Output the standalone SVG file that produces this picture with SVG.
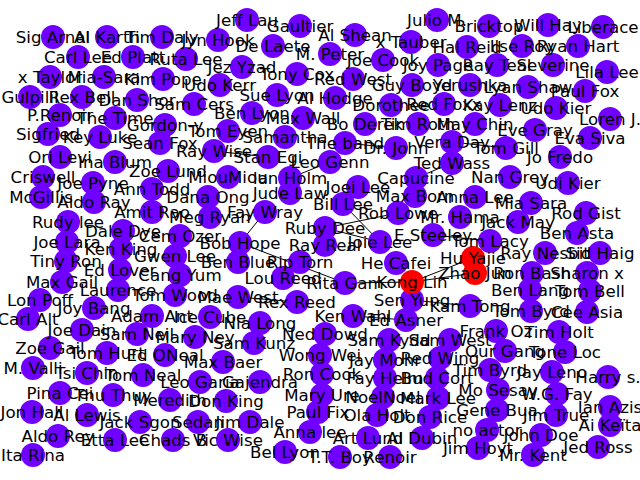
<svg xmlns="http://www.w3.org/2000/svg" width="640" height="480" viewBox="0 0 640 480">
<style>
.n circle{fill:#7000ff}
.n.r circle{fill:#ff0000}
#edges line{stroke:#000;stroke-width:1}
#labels text{font-family:"DejaVu Sans",sans-serif;font-size:16.67px;fill:#000;text-anchor:middle;dominant-baseline:central}
</style>
<rect width="640" height="480" fill="#fff"/>
<g id="edges">
<line x1="265" y1="212" x2="240" y2="243"/>
<line x1="240" y1="243" x2="345" y2="283"/>
<line x1="345" y1="283" x2="412" y2="282"/>
<line x1="412" y1="282" x2="473" y2="258"/>
<line x1="412" y1="282" x2="475" y2="273"/>
<line x1="473" y1="258" x2="475" y2="273"/>
<line x1="238" y1="297" x2="297" y2="302"/>
<line x1="353" y1="316" x2="406" y2="320"/>
<line x1="412" y1="300" x2="470" y2="306"/>
<line x1="214" y1="151" x2="268" y2="157"/>
<line x1="345" y1="143" x2="396" y2="148"/>
<line x1="452" y1="142" x2="506" y2="148"/>
<line x1="452" y1="163" x2="416" y2="178"/>
<line x1="290" y1="178" x2="330" y2="162"/>
<line x1="343" y1="204" x2="380" y2="242"/>
<line x1="398" y1="213" x2="325" y2="228"/>
<line x1="325" y1="228" x2="380" y2="242"/>
<line x1="433" y1="235" x2="490" y2="241"/>
</g>
<g id="nodes">
<g id="n1" class="n"><circle cx="247" cy="20" r="12"/></g>
<g id="n2" class="n"><circle cx="300" cy="26" r="12"/></g>
<g id="n3" class="n"><circle cx="437" cy="20" r="12"/></g>
<g id="n4" class="n"><circle cx="489" cy="26" r="12"/></g>
<g id="n5" class="n"><circle cx="548" cy="25" r="12"/></g>
<g id="n6" class="n"><circle cx="603" cy="27" r="12"/></g>
<g id="n7" class="n"><circle cx="53" cy="37" r="12"/></g>
<g id="n8" class="n"><circle cx="107" cy="37" r="12"/></g>
<g id="n9" class="n"><circle cx="162" cy="37" r="12"/></g>
<g id="n10" class="n"><circle cx="218" cy="40" r="12"/></g>
<g id="n11" class="n"><circle cx="355" cy="35" r="12"/></g>
<g id="n12" class="n"><circle cx="273" cy="46" r="12"/></g>
<g id="n13" class="n"><circle cx="411" cy="42" r="12"/></g>
<g id="n14" class="n"><circle cx="78" cy="57" r="12"/></g>
<g id="n15" class="n"><circle cx="133" cy="57" r="12"/></g>
<g id="n16" class="n"><circle cx="186" cy="59" r="12"/></g>
<g id="n17" class="n"><circle cx="330" cy="54" r="12"/></g>
<g id="n18" class="n"><circle cx="467" cy="47" r="12"/></g>
<g id="n19" class="n"><circle cx="522" cy="46" r="12"/></g>
<g id="n20" class="n"><circle cx="578" cy="46" r="12"/></g>
<g id="n21" class="n"><circle cx="50" cy="77" r="12"/></g>
<g id="n22" class="n"><circle cx="104" cy="77" r="12"/></g>
<g id="n23" class="n"><circle cx="163" cy="79" r="12"/></g>
<g id="n24" class="n"><circle cx="242" cy="67" r="12"/></g>
<g id="n25" class="n"><circle cx="297" cy="74" r="12"/></g>
<g id="n26" class="n"><circle cx="383" cy="60" r="12"/></g>
<g id="n27" class="n"><circle cx="438" cy="65" r="12"/></g>
<g id="n28" class="n"><circle cx="497" cy="65" r="12"/></g>
<g id="n29" class="n"><circle cx="553" cy="65" r="12"/></g>
<g id="n30" class="n"><circle cx="607" cy="72" r="12"/></g>
<g id="n31" class="n"><circle cx="30" cy="97" r="12"/></g>
<g id="n32" class="n"><circle cx="82" cy="97" r="12"/></g>
<g id="n33" class="n"><circle cx="137" cy="100" r="12"/></g>
<g id="n34" class="n"><circle cx="220" cy="85" r="12"/></g>
<g id="n35" class="n"><circle cx="353" cy="79" r="12"/></g>
<g id="n36" class="n"><circle cx="412" cy="85" r="12"/></g>
<g id="n37" class="n"><circle cx="470" cy="85" r="12"/></g>
<g id="n38" class="n"><circle cx="528" cy="87" r="12"/></g>
<g id="n39" class="n"><circle cx="585" cy="91" r="12"/></g>
<g id="n40" class="n"><circle cx="194" cy="104" r="12"/></g>
<g id="n41" class="n"><circle cx="277" cy="95" r="12"/></g>
<g id="n42" class="n"><circle cx="335" cy="98" r="12"/></g>
<g id="n43" class="n"><circle cx="391" cy="105" r="12"/></g>
<g id="n44" class="n"><circle cx="444" cy="104" r="12"/></g>
<g id="n45" class="n"><circle cx="500" cy="105" r="12"/></g>
<g id="n46" class="n"><circle cx="556" cy="108" r="12"/></g>
<g id="n47" class="n"><circle cx="610" cy="119" r="12"/></g>
<g id="n48" class="n"><circle cx="60" cy="115" r="12"/></g>
<g id="n49" class="n"><circle cx="115" cy="118" r="12"/></g>
<g id="n50" class="n"><circle cx="165" cy="125" r="12"/></g>
<g id="n51" class="n"><circle cx="252" cy="113" r="12"/></g>
<g id="n52" class="n"><circle cx="303" cy="118" r="12"/></g>
<g id="n53" class="n"><circle cx="365" cy="124" r="12"/></g>
<g id="n54" class="n"><circle cx="418" cy="124" r="12"/></g>
<g id="n55" class="n"><circle cx="475" cy="124" r="12"/></g>
<g id="n56" class="n"><circle cx="535" cy="130" r="12"/></g>
<g id="n57" class="n"><circle cx="590" cy="138" r="12"/></g>
<g id="n58" class="n"><circle cx="48" cy="134" r="12"/></g>
<g id="n59" class="n"><circle cx="100" cy="137" r="12"/></g>
<g id="n60" class="n"><circle cx="160" cy="143" r="12"/></g>
<g id="n61" class="n"><circle cx="228" cy="131" r="12"/></g>
<g id="n62" class="n"><circle cx="285" cy="137" r="12"/></g>
<g id="n63" class="n"><circle cx="345" cy="143" r="12"/></g>
<g id="n64" class="n"><circle cx="396" cy="148" r="12"/></g>
<g id="n65" class="n"><circle cx="452" cy="142" r="12"/></g>
<g id="n66" class="n"><circle cx="506" cy="148" r="12"/></g>
<g id="n67" class="n"><circle cx="60" cy="157" r="12"/></g>
<g id="n68" class="n"><circle cx="214" cy="151" r="12"/></g>
<g id="n69" class="n"><circle cx="268" cy="157" r="12"/></g>
<g id="n70" class="n"><circle cx="452" cy="163" r="12"/></g>
<g id="n71" class="n"><circle cx="560" cy="157" r="12"/></g>
<g id="n72" class="n"><circle cx="115" cy="162" r="12"/></g>
<g id="n73" class="n"><circle cx="330" cy="162" r="12"/></g>
<g id="n74" class="n"><circle cx="43" cy="177" r="12"/></g>
<g id="n75" class="n"><circle cx="93" cy="183" r="12"/></g>
<g id="n76" class="n"><circle cx="168" cy="171" r="12"/></g>
<g id="n77" class="n"><circle cx="228" cy="177" r="12"/></g>
<g id="n78" class="n"><circle cx="290" cy="178" r="12"/></g>
<g id="n79" class="n"><circle cx="416" cy="178" r="12"/></g>
<g id="n80" class="n"><circle cx="510" cy="177" r="12"/></g>
<g id="n81" class="n"><circle cx="568" cy="183" r="12"/></g>
<g id="n82" class="n"><circle cx="41" cy="197" r="12"/></g>
<g id="n83" class="n"><circle cx="94" cy="202" r="12"/></g>
<g id="n84" class="n"><circle cx="152" cy="189" r="12"/></g>
<g id="n85" class="n"><circle cx="208" cy="197" r="12"/></g>
<g id="n86" class="n"><circle cx="290" cy="193" r="12"/></g>
<g id="n87" class="n"><circle cx="358" cy="187" r="12"/></g>
<g id="n88" class="n"><circle cx="415" cy="196" r="12"/></g>
<g id="n89" class="n"><circle cx="475" cy="197" r="12"/></g>
<g id="n90" class="n"><circle cx="531" cy="203" r="12"/></g>
<g id="n91" class="n"><circle cx="152" cy="212" r="12"/></g>
<g id="n92" class="n"><circle cx="343" cy="204" r="12"/></g>
<g id="n93" class="n"><circle cx="398" cy="213" r="12"/></g>
<g id="n94" class="n"><circle cx="460" cy="217" r="12"/></g>
<g id="n95" class="n"><circle cx="518" cy="222" r="12"/></g>
<g id="n96" class="n"><circle cx="586" cy="213" r="12"/></g>
<g id="n97" class="n"><circle cx="210" cy="217" r="12"/></g>
<g id="n98" class="n"><circle cx="265" cy="212" r="12"/></g>
<g id="n99" class="n"><circle cx="68" cy="222" r="12"/></g>
<g id="n100" class="n"><circle cx="123" cy="231" r="12"/></g>
<g id="n101" class="n"><circle cx="325" cy="228" r="12"/></g>
<g id="n102" class="n"><circle cx="433" cy="235" r="12"/></g>
<g id="n103" class="n"><circle cx="577" cy="233" r="12"/></g>
<g id="n104" class="n"><circle cx="180" cy="236" r="12"/></g>
<g id="n105" class="n"><circle cx="240" cy="243" r="12"/></g>
<g id="n106" class="n"><circle cx="325" cy="245" r="12"/></g>
<g id="n107" class="n"><circle cx="380" cy="242" r="12"/></g>
<g id="n108" class="n"><circle cx="490" cy="241" r="12"/></g>
<g id="n109" class="n"><circle cx="67" cy="242" r="12"/></g>
<g id="n110" class="n"><circle cx="121" cy="249" r="12"/></g>
<g id="n111" class="n"><circle cx="175" cy="256" r="12"/></g>
<g id="n112" class="n"><circle cx="238" cy="262" r="12"/></g>
<g id="n113" class="n"><circle cx="300" cy="262" r="12"/></g>
<g id="n115" class="n"><circle cx="545" cy="253" r="12"/></g>
<g id="n116" class="n"><circle cx="600" cy="253" r="12"/></g>
<g id="n117" class="n"><circle cx="66" cy="261" r="12"/></g>
<g id="n118" class="n"><circle cx="396" cy="263" r="12"/></g>
<g id="n120" class="n"><circle cx="180" cy="275" r="12"/></g>
<g id="n121" class="n"><circle cx="532" cy="273" r="12"/></g>
<g id="n122" class="n"><circle cx="587" cy="273" r="12"/></g>
<g id="n123" class="n"><circle cx="120" cy="270" r="12"/></g>
<g id="n124" class="n"><circle cx="62" cy="282" r="12"/></g>
<g id="n126" class="n"><circle cx="345" cy="283" r="12"/></g>
<g id="n127" class="n"><circle cx="283" cy="278" r="12"/></g>
<g id="n128" class="n"><circle cx="118" cy="290" r="12"/></g>
<g id="n129" class="n"><circle cx="175" cy="295" r="12"/></g>
<g id="n130" class="n"><circle cx="530" cy="290" r="12"/></g>
<g id="n131" class="n"><circle cx="590" cy="291" r="12"/></g>
<g id="n132" class="n"><circle cx="412" cy="300" r="12"/></g>
<g id="n133" class="n"><circle cx="238" cy="297" r="12"/></g>
<g id="n134" class="n"><circle cx="297" cy="302" r="12"/></g>
<g id="n135" class="n"><circle cx="470" cy="306" r="12"/></g>
<g id="n136" class="n"><circle cx="40" cy="300" r="12"/></g>
<g id="n137" class="n"><circle cx="94" cy="308" r="12"/></g>
<g id="n138" class="n"><circle cx="531" cy="311" r="12"/></g>
<g id="n139" class="n"><circle cx="587" cy="312" r="12"/></g>
<g id="n140" class="n"><circle cx="152" cy="316" r="12"/></g>
<g id="n141" class="n"><circle cx="210" cy="317" r="12"/></g>
<g id="n142" class="n"><circle cx="28" cy="319" r="12"/></g>
<g id="n143" class="n"><circle cx="353" cy="316" r="12"/></g>
<g id="n144" class="n"><circle cx="406" cy="320" r="12"/></g>
<g id="n145" class="n"><circle cx="260" cy="323" r="12"/></g>
<g id="n146" class="n"><circle cx="82" cy="330" r="12"/></g>
<g id="n147" class="n"><circle cx="137" cy="334" r="12"/></g>
<g id="n148" class="n"><circle cx="195" cy="337" r="12"/></g>
<g id="n149" class="n"><circle cx="254" cy="343" r="12"/></g>
<g id="n150" class="n"><circle cx="325" cy="334" r="12"/></g>
<g id="n151" class="n"><circle cx="389" cy="340" r="12"/></g>
<g id="n152" class="n"><circle cx="450" cy="340" r="12"/></g>
<g id="n153" class="n"><circle cx="496" cy="331" r="12"/></g>
<g id="n154" class="n"><circle cx="559" cy="332" r="12"/></g>
<g id="n155" class="n"><circle cx="50" cy="348" r="12"/></g>
<g id="n156" class="n"><circle cx="107" cy="353" r="12"/></g>
<g id="n157" class="n"><circle cx="165" cy="355" r="12"/></g>
<g id="n158" class="n"><circle cx="223" cy="362" r="12"/></g>
<g id="n159" class="n"><circle cx="320" cy="355" r="12"/></g>
<g id="n160" class="n"><circle cx="385" cy="360" r="12"/></g>
<g id="n161" class="n"><circle cx="440" cy="358" r="12"/></g>
<g id="n162" class="n"><circle cx="505" cy="351" r="12"/></g>
<g id="n163" class="n"><circle cx="565" cy="352" r="12"/></g>
<g id="n164" class="n"><circle cx="33" cy="368" r="12"/></g>
<g id="n165" class="n"><circle cx="87" cy="373" r="12"/></g>
<g id="n166" class="n"><circle cx="143" cy="375" r="12"/></g>
<g id="n167" class="n"><circle cx="200" cy="382" r="12"/></g>
<g id="n168" class="n"><circle cx="260" cy="382" r="12"/></g>
<g id="n169" class="n"><circle cx="322" cy="374" r="12"/></g>
<g id="n170" class="n"><circle cx="385" cy="378" r="12"/></g>
<g id="n171" class="n"><circle cx="437" cy="378" r="12"/></g>
<g id="n172" class="n"><circle cx="490" cy="370" r="12"/></g>
<g id="n173" class="n"><circle cx="552" cy="372" r="12"/></g>
<g id="n174" class="n"><circle cx="608" cy="377" r="12"/></g>
<g id="n175" class="n"><circle cx="60" cy="393" r="12"/></g>
<g id="n176" class="n"><circle cx="113" cy="395" r="12"/></g>
<g id="n177" class="n"><circle cx="170" cy="400" r="12"/></g>
<g id="n178" class="n"><circle cx="226" cy="401" r="12"/></g>
<g id="n179" class="n"><circle cx="322" cy="395" r="12"/></g>
<g id="n180" class="n"><circle cx="383" cy="397" r="12"/></g>
<g id="n181" class="n"><circle cx="438" cy="398" r="12"/></g>
<g id="n182" class="n"><circle cx="498" cy="390" r="12"/></g>
<g id="n183" class="n"><circle cx="557" cy="394" r="12"/></g>
<g id="n184" class="n"><circle cx="32" cy="412" r="12"/></g>
<g id="n185" class="n"><circle cx="87" cy="415" r="12"/></g>
<g id="n186" class="n"><circle cx="140" cy="422" r="12"/></g>
<g id="n187" class="n"><circle cx="198" cy="422" r="12"/></g>
<g id="n188" class="n"><circle cx="250" cy="422" r="12"/></g>
<g id="n189" class="n"><circle cx="318" cy="412" r="12"/></g>
<g id="n190" class="n"><circle cx="377" cy="415" r="12"/></g>
<g id="n191" class="n"><circle cx="430" cy="417" r="12"/></g>
<g id="n192" class="n"><circle cx="497" cy="410" r="12"/></g>
<g id="n193" class="n"><circle cx="556" cy="415" r="12"/></g>
<g id="n194" class="n"><circle cx="610" cy="407" r="12"/></g>
<g id="n195" class="n"><circle cx="58" cy="436" r="12"/></g>
<g id="n196" class="n"><circle cx="115" cy="440" r="12"/></g>
<g id="n197" class="n"><circle cx="173" cy="440" r="12"/></g>
<g id="n198" class="n"><circle cx="228" cy="440" r="12"/></g>
<g id="n199" class="n"><circle cx="610" cy="425" r="12"/></g>
<g id="n200" class="n"><circle cx="487" cy="430" r="12"/></g>
<g id="n201" class="n"><circle cx="310" cy="432" r="12"/></g>
<g id="n202" class="n"><circle cx="368" cy="438" r="12"/></g>
<g id="n203" class="n"><circle cx="422" cy="438" r="12"/></g>
<g id="n204" class="n"><circle cx="541" cy="435" r="12"/></g>
<g id="n205" class="n"><circle cx="598" cy="447" r="12"/></g>
<g id="n206" class="n"><circle cx="478" cy="448" r="12"/></g>
<g id="n207" class="n"><circle cx="533" cy="455" r="12"/></g>
<g id="n208" class="n"><circle cx="33" cy="455" r="12"/></g>
<g id="n209" class="n"><circle cx="285" cy="452" r="12"/></g>
<g id="n210" class="n"><circle cx="340" cy="457" r="12"/></g>
<g id="n211" class="n"><circle cx="390" cy="457" r="12"/></g>
<g id="n114" class="n r"><circle cx="473" cy="258" r="12"/></g>
<g id="n119" class="n r"><circle cx="475" cy="273" r="12"/></g>
<g id="n125" class="n r"><circle cx="412" cy="282" r="12"/></g>
</g>
<g id="labels">
<text x="247" y="20">Jeff Lau</text>
<text x="300" y="26">Gaultier</text>
<text x="437" y="20">Julio M.</text>
<text x="489" y="26">Bricktop</text>
<text x="548" y="25">Will Hay</text>
<text x="603" y="27">Liberace</text>
<text x="53" y="37">Sig Arnal</text>
<text x="107" y="37">Al Karth</text>
<text x="162" y="37">Tim Daly</text>
<text x="218" y="40">Jyn Hook</text>
<text x="355" y="35">Al Shean</text>
<text x="273" y="46">De Laete</text>
<text x="411" y="42">x Tauber</text>
<text x="78" y="57">Carl Lee</text>
<text x="133" y="57">Ed Platt</text>
<text x="186" y="59">Ruta Lee</text>
<text x="330" y="54">M. Peter</text>
<text x="467" y="47">Hal Reid</text>
<text x="522" y="46">Ilse Roy</text>
<text x="578" y="46">Ryan Hart</text>
<text x="50" y="77">x Taylor</text>
<text x="104" y="77">Mia-Sara</text>
<text x="163" y="79">Kim Pope</text>
<text x="242" y="67">Jez Yzad</text>
<text x="297" y="74">Tony Cox</text>
<text x="383" y="60">Joe Cook</text>
<text x="438" y="65">Joy Page</text>
<text x="497" y="65">Ray Teal</text>
<text x="553" y="65">Severine</text>
<text x="607" y="72">Lila Lee</text>
<text x="30" y="97">Gulpilil</text>
<text x="82" y="97">Rex Bell</text>
<text x="137" y="100">Dan Shor</text>
<text x="220" y="85">Udo Kerr</text>
<text x="353" y="79">Red West</text>
<text x="412" y="85">Guy Boyd</text>
<text x="470" y="85">Yerushka</text>
<text x="528" y="87">Lyan Shaw</text>
<text x="585" y="91">Paul Fox</text>
<text x="194" y="104">Sam Cers</text>
<text x="277" y="95">Sue Lyon</text>
<text x="335" y="98">Al Hodge</text>
<text x="391" y="105">Dorothee</text>
<text x="444" y="104">Red Foxx</text>
<text x="500" y="105">Kay Lenz</text>
<text x="556" y="108">Udo Kier</text>
<text x="610" y="119">Loren J.</text>
<text x="60" y="115">P.Renoir</text>
<text x="115" y="118">The Time</text>
<text x="165" y="125">Gordon-y</text>
<text x="252" y="113">Ben Lyon</text>
<text x="303" y="118">Max Wall</text>
<text x="365" y="124">Bo Derek</text>
<text x="418" y="124">Tim Roth</text>
<text x="475" y="124">May Chin</text>
<text x="535" y="130">Eve Gray</text>
<text x="590" y="138">Eva Siva</text>
<text x="48" y="134">Sigfried</text>
<text x="100" y="137">Key Luke</text>
<text x="160" y="143">Sean Fox</text>
<text x="228" y="131">Tom Eyen</text>
<text x="285" y="137">Samantha</text>
<text x="345" y="143">The band</text>
<text x="396" y="148">Dr. John</text>
<text x="452" y="142">Vera Day</text>
<text x="506" y="148">Tom Gill</text>
<text x="60" y="157">Ori Levi</text>
<text x="214" y="151">Ray Wise</text>
<text x="268" y="157">Stan Egi</text>
<text x="452" y="163">Ted Wass</text>
<text x="560" y="157">Jo Fredo</text>
<text x="115" y="162">Ina Blum</text>
<text x="330" y="162">Leo Genn</text>
<text x="43" y="177">Criswell</text>
<text x="93" y="183">Joe Pyne</text>
<text x="168" y="171">Zoe Lund</text>
<text x="228" y="177">MiouMiou</text>
<text x="290" y="178">Ian Holm</text>
<text x="416" y="178">Capucine</text>
<text x="510" y="177">Nan Grey</text>
<text x="568" y="183">Udi Kier</text>
<text x="41" y="197">McGillis</text>
<text x="94" y="202">Aldo Ray</text>
<text x="152" y="189">Ann Todd</text>
<text x="208" y="197">Dana Ong</text>
<text x="290" y="193">Jude Law</text>
<text x="358" y="187">Joei Lee</text>
<text x="415" y="196">Max Born</text>
<text x="475" y="197">Anna Lee</text>
<text x="531" y="203">Mia Sara</text>
<text x="152" y="212">Amit Rao</text>
<text x="343" y="204">Bill Lee</text>
<text x="398" y="213">Rob Lowe</text>
<text x="460" y="217">Mr. Hama</text>
<text x="518" y="222">Jack May</text>
<text x="586" y="213">Rod Gist</text>
<text x="210" y="217">Meg Ryan</text>
<text x="265" y="212">Fay Wray</text>
<text x="68" y="222">Rudy lee</text>
<text x="123" y="231">Dale Dye</text>
<text x="325" y="228">Ruby Dee</text>
<text x="433" y="235">E Steeley</text>
<text x="577" y="233">Ben Asta</text>
<text x="180" y="236">Cem Ozer</text>
<text x="240" y="243">Bob Hope</text>
<text x="325" y="245">Ray Real</text>
<text x="380" y="242">Joie Lee</text>
<text x="490" y="241">Tom Lacy</text>
<text x="67" y="242">Joe Lara</text>
<text x="121" y="249">Ken King</text>
<text x="175" y="256">Gwen Lee</text>
<text x="238" y="262">Ben Blue</text>
<text x="300" y="262">Rip Torn</text>
<text x="473" y="258">Hu Yajie</text>
<text x="545" y="253">Ray Nesbit</text>
<text x="600" y="253">Sid Haig</text>
<text x="66" y="261">Tiny Ron</text>
<text x="396" y="263">He Cafei</text>
<text x="475" y="273">Zhao Jun</text>
<text x="180" y="275">Cang Yum</text>
<text x="532" y="273">Ron Bash</text>
<text x="587" y="273">Sharon x</text>
<text x="120" y="270">Ed Lover</text>
<text x="62" y="282">Max Gail</text>
<text x="412" y="282">Kong Lin</text>
<text x="345" y="283">Rita Gam</text>
<text x="283" y="278">Lou Reed</text>
<text x="118" y="290">Laurence</text>
<text x="175" y="295">Tom Wood</text>
<text x="530" y="290">Ben Lang</text>
<text x="590" y="291">Tom Bell</text>
<text x="412" y="300">Sen Yung</text>
<text x="238" y="297">Mae West</text>
<text x="297" y="302">Rex Reed</text>
<text x="470" y="306">Kam Tong</text>
<text x="40" y="300">Lon Poff</text>
<text x="94" y="308">Joy Bang</text>
<text x="531" y="311">Tom Byrd</text>
<text x="587" y="312">Cee Asia</text>
<text x="152" y="316">Adam Ant</text>
<text x="210" y="317">Ice Cube</text>
<text x="28" y="319">Carl Alt</text>
<text x="353" y="316">Ken Wahl</text>
<text x="406" y="320">Ed Asner</text>
<text x="260" y="323">Nia Long</text>
<text x="82" y="330">Joe Dain</text>
<text x="137" y="334">Sam Neil</text>
<text x="195" y="337">Mary Ney</text>
<text x="254" y="343">Sam Kunz</text>
<text x="325" y="334">Ned Dowd</text>
<text x="389" y="340">Sam Kydd</text>
<text x="450" y="340">Sam West</text>
<text x="496" y="331">Frank Oz</text>
<text x="559" y="332">Tim Holt</text>
<text x="50" y="348">Zoe Gail</text>
<text x="107" y="353">Tom Hurt</text>
<text x="165" y="355">Ed ONeal</text>
<text x="223" y="362">Max Baer</text>
<text x="320" y="355">Wong Wei</text>
<text x="385" y="360">Jay Mohr</text>
<text x="440" y="358">Red Wing</text>
<text x="505" y="351">Our Gang</text>
<text x="565" y="352">Tone Loc</text>
<text x="33" y="368">M. Valli</text>
<text x="87" y="373">Tsi Chin</text>
<text x="143" y="375">Tom Neal</text>
<text x="200" y="382">Leo Garia</text>
<text x="260" y="382">Gajendra</text>
<text x="322" y="374">Ron Cook</text>
<text x="385" y="378">Fay Helm</text>
<text x="437" y="378">Bud Cort</text>
<text x="490" y="370">Tim Byrd</text>
<text x="552" y="372">Jay Leno</text>
<text x="608" y="377">Harry s.</text>
<text x="60" y="393">Pina Cei</text>
<text x="113" y="395">Thu Thuy</text>
<text x="170" y="400">Meredith</text>
<text x="226" y="401">Don King</text>
<text x="322" y="395">Mary Ure</text>
<text x="383" y="397">NoelNoel</text>
<text x="438" y="398">Mark Lee</text>
<text x="498" y="390">Mo Sesay</text>
<text x="557" y="394">W.G. Fay</text>
<text x="32" y="412">Jon Hall</text>
<text x="87" y="415">Al Lewis</text>
<text x="140" y="422">Jack Sgon</text>
<text x="198" y="422">Sedan</text>
<text x="250" y="422">Jim Dale</text>
<text x="318" y="412">Paul Fix</text>
<text x="377" y="415">Ola Holt</text>
<text x="430" y="417">Don Rice</text>
<text x="497" y="410">Gene Bua</text>
<text x="556" y="415">Jim True</text>
<text x="610" y="407">Ian Azis</text>
<text x="58" y="436">Aldo Rey</text>
<text x="115" y="440">Etta Lee</text>
<text x="173" y="440">Chads B</text>
<text x="228" y="440">Vic Wise</text>
<text x="610" y="425">Ai Keïta</text>
<text x="487" y="430">no actor</text>
<text x="310" y="432">Anna lee</text>
<text x="368" y="438">Art Lund</text>
<text x="422" y="438">Al Dubin</text>
<text x="541" y="435">John Doe</text>
<text x="598" y="447">Jed Ross</text>
<text x="478" y="448">Jim Hoyt</text>
<text x="533" y="455">Mr. Kent</text>
<text x="33" y="455">Ita Rina</text>
<text x="285" y="452">Bel Lyon</text>
<text x="340" y="457">T.T. Boy</text>
<text x="390" y="457">Renoir</text>
</g>
</svg>
